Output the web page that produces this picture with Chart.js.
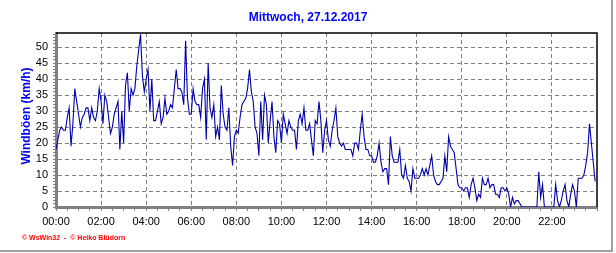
<!DOCTYPE html>
<html>
<head>
<meta charset="utf-8">
<script src="https://cdn.jsdelivr.net/npm/chart.js@4.4.1/dist/chart.umd.min.js"></script>
<style>
  html, body { margin: 0; padding: 0; background: #fff; }
  #wrap { width: 616px; height: 253px; position: relative; }
</style>
</head>
<body>
<div id="wrap"><canvas id="gustChart" width="616" height="253"></canvas></div>
<script>
const titleText = 'Mittwoch, 27.12.2017';
const yAxisTitle = 'Windböen (km/h)';
const creditText = '\u00A9 WsWin32  -  \u00A9 Heiko Blüdorn';

// gusts in km/h, one value every 5 minutes
const stepMinutes = 5;
const gustNight = [          // 00:00 - 05:55
  18, 21, 24, 25, 24, 24, 28, 31, 19, 26,
  37, 33, 29, 25, 28, 29, 31, 31, 27, 31,
  28, 27, 30, 37, 33, 26, 35, 33, 28, 23,
  25, 29, 31, 33, 18, 30, 20, 38, 42, 30,
  37, 35, 37, 44, 49, 54, 41, 36, 40, 43,
  30, 40, 27, 27, 30, 33, 26, 28, 34, 29,
  30, 32, 31, 37, 43, 37, 37, 36, 32, 52,
  34, 29
];
const gustMorning = [        // 06:00 - 11:55
  29, 37, 33, 32, 32, 28, 37, 40,
  21, 45, 31, 28, 32, 22, 25, 21, 38, 29,
  25, 24, 31, 19, 13, 22, 24, 23, 28, 32,
  33, 34, 37, 43, 36, 33, 25, 23, 16, 33,
  21, 35, 32, 20, 27, 33, 22, 17, 27, 26,
  20, 29, 26, 23, 27, 25, 24, 24, 18, 27,
  29, 26, 31, 24, 24, 26, 21, 16, 27, 26,
  33, 27, 17, 24
];
const gustAfternoon = [      // 12:00 - 17:55
  27, 21, 19, 24, 27, 31,
  22, 20, 19, 20, 18, 18, 18, 18, 16, 20,
  20, 18,
  24, 29, 22, 18, 18, 16, 16, 14,
  14, 16, 20, 14, 11, 12, 12, 7, 22, 16,
  14, 14, 14, 18, 10, 9, 13, 9, 8, 5,
  12, 9, 9, 9, 10, 12, 10, 12, 10, 13,
  16, 10, 8, 7, 7, 8, 9, 16, 11, 22,
  19, 18, 17, 12, 7, 6
];
const gustEvening = [        // 18:00 - 23:55
  6, 5, 6, 6,
  3, 7, 9, 6, 2, 4, 3, 9, 7, 7,
  9, 6, 7, 7, 4, 4, 3, 6, 6, 5,
  6, 4, 0, 3, 1, 2, 2, 1, 0, 0,
  0, 0, 0, 0, 0, 0, 0, 11, 3, 7,
  0, 0, 0, 0, 0, 0, 7, 2, 0, 2,
  5, 7, 2, 0, 4, 7, 5, 0, 9, 9,
  9, 10, 13, 17, 26, 20, 14, 8
];

const gusts = [].concat(gustNight, gustMorning, gustAfternoon, gustEvening);
const points = gusts.map((v, i) => ({ x: i * stepMinutes, y: v }));

const pad2 = n => String(n).padStart(2, '0');
const gridGrey = '#808080';
const none = 'rgba(0,0,0,0)';
const tickFont = { family: "'Liberation Sans', Arial, sans-serif", size: 11 };

// frame, headings and credit line
const decorations = {
  id: 'decorations',
  afterDraw(chart) {
    const { ctx, chartArea: a } = chart;
    ctx.save();
    ctx.strokeStyle = '#000';
    ctx.lineWidth = 1.5;
    ctx.beginPath();
    ctx.moveTo(a.left, a.top);
    ctx.lineTo(a.right, a.top);
    ctx.lineTo(a.right, a.bottom);
    ctx.stroke();

    ctx.strokeStyle = '#a0a0a0';
    ctx.lineWidth = 2;
    ctx.beginPath();
    ctx.moveTo(612, 0);
    ctx.lineTo(612, 251);
    ctx.lineTo(0, 251);
    ctx.stroke();

    ctx.fillStyle = '#0000ff';
    ctx.font = "bold 12px 'Liberation Sans', Arial, sans-serif";
    ctx.textAlign = 'center';
    ctx.textBaseline = 'middle';
    ctx.fillText(titleText, 308, 18);

    ctx.save();
    ctx.translate(27, (a.top + a.bottom) / 2 - 4);
    ctx.rotate(-Math.PI / 2);
    ctx.fillText(yAxisTitle, 0, 0);
    ctx.restore();

    ctx.fillStyle = '#ff0000';
    ctx.font = "bold 7px 'Liberation Sans', Arial, sans-serif";
    ctx.textAlign = 'left';
    ctx.fillText(creditText, 22, 238);
    ctx.restore();
  }
};

new Chart(document.getElementById('gustChart'), {
  type: 'line',
  data: {
    datasets: [{
      label: yAxisTitle,
      data: points,
      borderColor: '#0000a8',
      borderWidth: 1.1,
      pointRadius: 0,
      tension: 0,
      fill: false
    }]
  },
  options: {
    responsive: false,
    animation: false,
    devicePixelRatio: 1,
    layout: { padding: { left: 0, top: 33, right: 19, bottom: 0 } },
    plugins: {
      legend: { display: false },
      tooltip: { enabled: false },
      title: { display: false }
    },
    scales: {
      x: {
        type: 'linear',
        min: 0,
        max: 1440,
        afterFit: s => { s.height = 46; },
        ticks: {
          stepSize: 30,
          autoSkip: false,
          maxRotation: 0,
          includeBounds: false,
          padding: 4,
          color: '#000',
          font: tickFont,
          callback: v => (v % 120 === 0 && v < 1440) ? pad2(v / 60) + ':00' : ''
        },
        grid: {
          color: c => (c.tick && c.tick.value % 120 === 0 && c.tick.value > 0 && c.tick.value < 1440) ? gridGrey : none,
          tickColor: gridGrey,
          tickLength: 4
        },
        border: { color: gridGrey, width: 3, dash: [4, 3] }
      },
      y: {
        min: 0,
        max: 54.4,
        afterFit: s => { s.width = 56; },
        ticks: {
          stepSize: 1,
          autoSkip: false,
          includeBounds: false,
          padding: 5,
          color: '#000',
          font: tickFont,
          callback: v => v % 5 === 0 ? v : ''
        },
        grid: {
          color: c => (c.tick && c.tick.value % 5 === 0 && c.tick.value > 0) ? gridGrey : none,
          tickColor: gridGrey,
          tickLength: 3
        },
        border: { color: gridGrey, width: 3, dash: [4, 3] }
      }
    }
  },
  plugins: [decorations]
});
</script>
</body>
</html>
